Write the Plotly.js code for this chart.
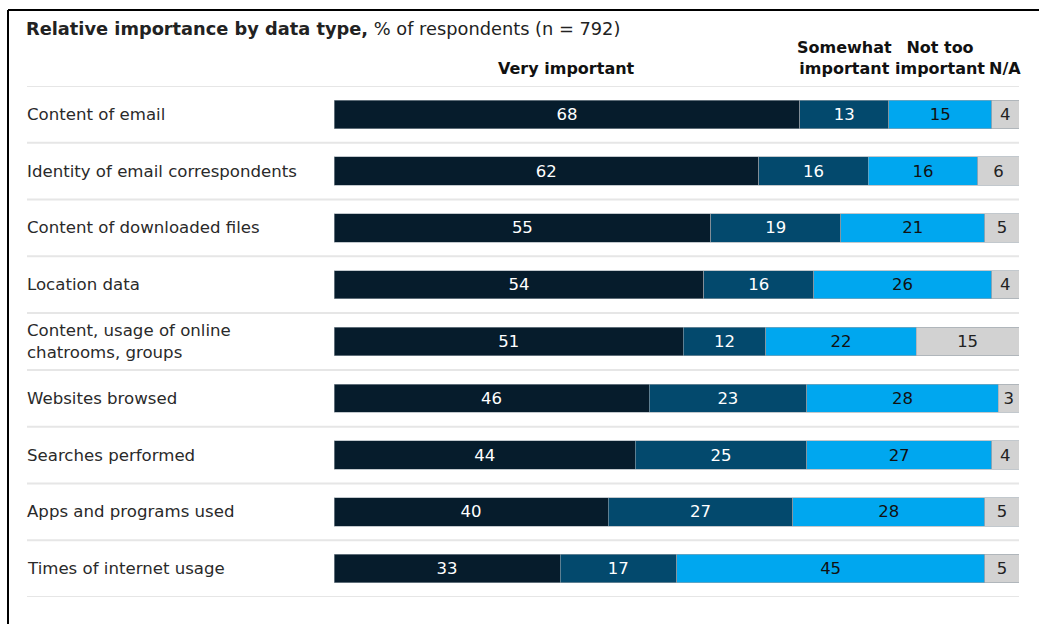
<!DOCTYPE html>
<html>
<head>
<meta charset="utf-8">
<script src="https://cdn.plot.ly/plotly-3.0.1.min.js"></script>
<style>
  html, body { margin: 0; padding: 0; background: #fff; }
  #chart { width: 1039px; height: 624px; }
</style>
</head>
<body>
<div id="chart"></div>
<script>
const categories = [
  "Content of email",
  "Identity of email correspondents",
  "Content of downloaded files",
  "Location data",
  "Content, usage of online<br>chatrooms, groups",
  "Websites browsed",
  "Searches performed",
  "Apps and programs used",
  "Times of internet usage"
];
const veryImportant     = [68, 62, 55, 54, 51, 46, 44, 40, 33];
const somewhatImportant = [13, 16, 19, 16, 12, 23, 25, 27, 17];
const notTooImportant   = [15, 16, 21, 26, 22, 28, 27, 28, 45];
const notApplicable     = [4, 6, 5, 4, 15, 3, 4, 5, 5];
const seriesNames = ["Very important", "Somewhat<br>important", "Not too<br>important", "N/A"];

const FONT = "DejaVu Sans, Liberation Sans, Arial, sans-serif";
const colors = ["#061c2c", "#03496d", "#00a7ef", "#d2d2d2"];
const textColors = ["#ffffff", "#ffffff", "#111111", "#222222"];
const seriesVals = [veryImportant, somewhatImportant, notTooImportant, notApplicable];

const idx = categories.map((_, i) => i);

const traces = seriesVals.map((vals, s) => ({
  type: "bar",
  orientation: "h",
  name: seriesNames[s],
  y: idx,
  x: vals,
  text: vals.map(String),
  textposition: "inside",
  insidetextanchor: "middle",
  textangle: 0,
  constraintext: "none",
  textfont: { family: FONT, size: 16.5, color: textColors[s] },
  marker: { color: colors[s], line: { color: "#9aa4ab", width: 0.6 } },
  hoverinfo: "skip"
}));

const plotW = 685;
const labelX = (25 - 334) / plotW;
const lineX = (27 - 334) / plotW;

const annotations = categories.map((c, i) => ({
  xref: "paper", yref: "y",
  x: labelX, y: i,
  xanchor: "left", yanchor: "middle", align: "left",
  text: c, showarrow: false,
  font: { family: FONT, size: 16.6, color: "#2a2a2a" }
}));

// Column headers centred over the first row's segments
let cum = 0;
seriesVals.forEach((vals, s) => {
  const mid = cum + vals[0] / 2;
  cum += vals[0];
  annotations.push({
    xref: "x", yref: "paper",
    x: mid, y: 1.012,
    xanchor: "center", yanchor: "bottom",
    text: "<b>" + seriesNames[s] + "</b>",
    showarrow: false,
    font: { family: FONT, size: 16, color: "#111111" }
  });
});

const shapes = [];
for (let k = -1; k < categories.length; k++) {
  shapes.push({
    type: "line", xref: "paper", yref: "y",
    x0: lineX, x1: 1, y0: k + 0.5, y1: k + 0.5,
    line: { color: "#e6e6e6", width: 2 },
    layer: "below"
  });
}
const plotH = 511;
const px = p => (p - 334) / plotW;
const py = p => (597 - p) / plotH;
shapes.push({ type: "line", xref: "paper", yref: "paper", x0: px(8), x1: px(1040), y0: py(10), y1: py(10), line: { color: "#000", width: 2 } });
shapes.push({ type: "line", xref: "paper", yref: "paper", x0: px(8), x1: px(8), y0: py(10), y1: py(630), line: { color: "#000", width: 2 } });

const layout = {
  width: 1039, height: 624,
  margin: { l: 334, r: 20, t: 86, b: 27 },
  paper_bgcolor: "#ffffff",
  plot_bgcolor: "#ffffff",
  barmode: "stack",
  bargap: 0.5,
  showlegend: false,
  title: {
    text: "<b>Relative importance by data type,</b> % of respondents (n = 792)",
    x: 26 / 1039, xanchor: "left", xref: "container",
    y: 1 - 29 / 624, yanchor: "middle", yref: "container",
    font: { family: FONT, size: 17.8, color: "#222222" }
  },
  xaxis: { range: [0, 100], visible: false, fixedrange: true },
  yaxis: { range: [categories.length - 0.5, -0.5], visible: false, fixedrange: true },
  annotations: annotations,
  shapes: shapes
};

Plotly.newPlot("chart", traces, layout, { displayModeBar: false, staticPlot: true });
</script>
</body>
</html>
